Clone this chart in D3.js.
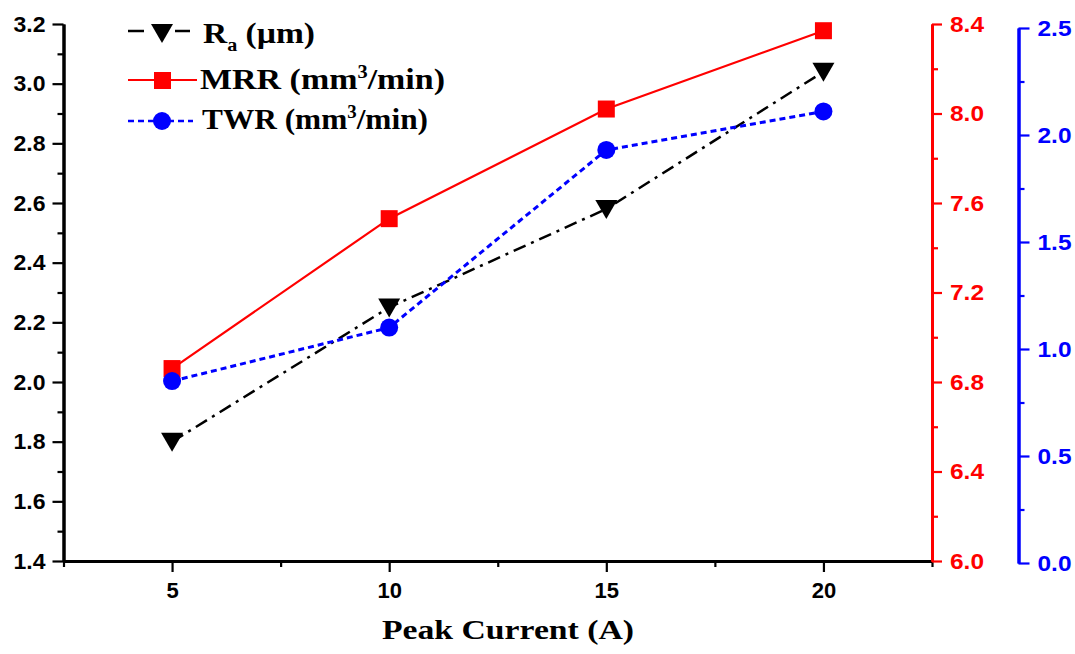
<!DOCTYPE html>
<html>
<head>
<meta charset="utf-8">
<script src="https://cdn.jsdelivr.net/npm/d3@7"></script>
<style>
  html, body { margin: 0; padding: 0; background: #fff; }
  svg { display: block; }
</style>
</head>
<body>
<svg id="chart" width="1075" height="654"></svg>
<script>
// ---- data ----
const peakCurrent = [5, 10, 15, 20];
const raValues = [1.80, 2.25, 2.58, 3.04];     // Ra (µm), left axis
const mrrValues = [6.86, 7.53, 8.02, 8.37];    // MRR (mm3/min), red right axis
const twrValues = [0.85, 1.10, 1.93, 2.11];    // TWR (mm3/min), blue right axis

const xMajorTicks = [5, 10, 15, 20];
const xMinorTicks = [2.5, 7.5, 12.5, 17.5, 22.5];
const leftMajorTicks = [1.4, 1.6, 1.8, 2.0, 2.2, 2.4, 2.6, 2.8, 3.0, 3.2];
const leftMinorTicks = [1.5, 1.7, 1.9, 2.1, 2.3, 2.5, 2.7, 2.9, 3.1];
const redMajorTicks = [6.0, 6.4, 6.8, 7.2, 7.6, 8.0, 8.4];
const redMinorTicks = [6.2, 6.6, 7.0, 7.4, 7.8, 8.2];
const blueMajorTicks = [0.0, 0.5, 1.0, 1.5, 2.0, 2.5];
const blueMinorTicks = [0.25, 0.75, 1.25, 1.75, 2.25];

(function () {
const svg = d3.select("#chart");

const pLeft = 63.5, pRight = 932, pTop = 24, pBottom = 561;
const blueAxisX = 1018.5, blueTop = 28, blueBottom = 563;

const x = d3.scaleLinear().domain([2.5, 22.5]).range([pLeft, pRight]);
const yL = d3.scaleLinear().domain([1.4, 3.2]).range([pBottom, pTop]);
const yR = d3.scaleLinear().domain([6.0, 8.4]).range([pBottom, pTop]);
const yB = d3.scaleLinear().domain([0.0, 2.5]).range([blueBottom, blueTop]);

const tickFont = "'Liberation Sans', Arial, sans-serif";
const serifFont = "'Liberation Serif', 'Times New Roman', serif";

function styleAxis(g, color, labelWidth) {
  g.select(".domain").attr("stroke", color).attr("stroke-width", 3);
  g.selectAll(".tick line").attr("stroke", color).attr("stroke-width", 2.2);
  const t = g.selectAll(".tick text")
    .attr("fill", color)
    .style("font-family", tickFont)
    .style("font-weight", "bold")
    .style("font-size", "22px");
  if (labelWidth) t.attr("textLength", labelWidth).attr("lengthAdjust", "spacingAndGlyphs");
}

// ---- bottom axis ----
const gxMinor = svg.append("g").attr("transform", `translate(0,${pBottom})`)
  .call(d3.axisBottom(x).tickValues(xMinorTicks).tickSize(6).tickFormat("").tickSizeOuter(0));
styleAxis(gxMinor, "#000");
const gx = svg.append("g").attr("transform", `translate(0,${pBottom})`)
  .call(d3.axisBottom(x).tickValues(xMajorTicks).tickSize(11).tickPadding(10).tickFormat(d3.format("d")).tickSizeOuter(0));
styleAxis(gx, "#000");

// ---- left axis ----
const gyMinor = svg.append("g").attr("transform", `translate(${pLeft},0)`)
  .call(d3.axisLeft(yL).tickValues(leftMinorTicks).tickSize(6).tickFormat("").tickSizeOuter(0));
styleAxis(gyMinor, "#000");
const gy = svg.append("g").attr("transform", `translate(${pLeft},0)`)
  .call(d3.axisLeft(yL).tickValues(leftMajorTicks).tickSize(11).tickPadding(7).tickFormat(d3.format(".1f")).tickSizeOuter(0));
styleAxis(gy, "#000", 32);

// ---- red right axis ----
const RED = "#ff0000", BLUE = "#0000ff";
const grMinor = svg.append("g").attr("transform", `translate(${pRight},0)`)
  .call(d3.axisRight(yR).tickValues(redMinorTicks).tickSize(6).tickFormat("").tickSizeOuter(0));
styleAxis(grMinor, RED);
const gr = svg.append("g").attr("transform", `translate(${pRight},0)`)
  .call(d3.axisRight(yR).tickValues(redMajorTicks).tickSize(10).tickPadding(8).tickFormat(d3.format(".1f")).tickSizeOuter(0));
styleAxis(gr, RED, 34);

// ---- blue right axis ----
const gbMinor = svg.append("g").attr("transform", `translate(${blueAxisX},0)`)
  .call(d3.axisRight(yB).tickValues(blueMinorTicks).tickSize(6).tickFormat("").tickSizeOuter(0));
styleAxis(gbMinor, BLUE);
const gb = svg.append("g").attr("transform", `translate(${blueAxisX},0)`)
  .call(d3.axisRight(yB).tickValues(blueMajorTicks).tickSize(11).tickPadding(8).tickFormat(d3.format(".1f")).tickSizeOuter(0));
styleAxis(gb, BLUE, 34);

// ---- axis title ----
svg.append("text")
  .attr("x", 508).attr("y", 639)
  .attr("text-anchor", "middle")
  .attr("textLength", 252).attr("lengthAdjust", "spacingAndGlyphs")
  .style("font-family", serifFont).style("font-weight", "bold").style("font-size", "28px")
  .text("Peak Current (A)");

// ---- series ----
const triPath = "M-11,-9 L11,-9 L0,10 Z";
function drawSeries(values, yScale, color, dash, width, marker) {
  const line = d3.line().x((d, i) => x(peakCurrent[i])).y(d => yScale(d));
  svg.append("path").datum(values)
    .attr("d", line).attr("fill", "none")
    .attr("stroke", color).attr("stroke-width", width)
    .attr("stroke-dasharray", dash);
  const g = svg.append("g");
  values.forEach((v, i) => {
    const cx = x(peakCurrent[i]), cy = yScale(v);
    if (marker === "tri") {
      g.append("path").attr("d", triPath).attr("transform", `translate(${cx},${cy})`).attr("fill", color);
    } else if (marker === "square") {
      g.append("rect").attr("x", cx - 8.5).attr("y", cy - 8.5).attr("width", 17).attr("height", 17).attr("fill", color);
    } else {
      g.append("circle").attr("cx", cx).attr("cy", cy).attr("r", 9).attr("fill", color);
    }
  });
}
drawSeries(raValues, yL, "#000", "13,6,3,6", 2.5, "tri");
drawSeries(mrrValues, yR, RED, null, 2.2, "square");
drawSeries(twrValues, yB, BLUE, "6,4", 3, "circle");

// ---- legend ----
const lg = svg.append("g");
// Ra
lg.append("line").attr("x1", 128).attr("x2", 144).attr("y1", 31).attr("y2", 31).attr("stroke", "#000").attr("stroke-width", 2.5);
lg.append("line").attr("x1", 175).attr("x2", 190).attr("y1", 31).attr("y2", 31).attr("stroke", "#000").attr("stroke-width", 2.5);
lg.append("path").attr("d", triPath).attr("transform", "translate(162,33)").attr("fill", "#000");
const t1 = lg.append("text").attr("x", 203).attr("y", 43)
  .attr("textLength", 112).attr("lengthAdjust", "spacingAndGlyphs")
  .style("font-family", serifFont).style("font-weight", "bold").style("font-size", "30px");
t1.append("tspan").text("R");
t1.append("tspan").attr("dy", 8).style("font-size", "18px").text("a");
t1.append("tspan").attr("dy", -8).text(" (µm)");
// MRR
lg.append("line").attr("x1", 128).attr("x2", 197).attr("y1", 80).attr("y2", 80).attr("stroke", RED).attr("stroke-width", 2.2);
lg.append("rect").attr("x", 154).attr("y", 72).attr("width", 17).attr("height", 17).attr("fill", RED);
const t2 = lg.append("text").attr("x", 200).attr("y", 89)
  .attr("textLength", 245).attr("lengthAdjust", "spacingAndGlyphs")
  .style("font-family", serifFont).style("font-weight", "bold").style("font-size", "30px");
t2.append("tspan").text("MRR (mm");
t2.append("tspan").attr("dy", -11).style("font-size", "18px").text("3");
t2.append("tspan").attr("dy", 11).text("/min)");
// TWR
lg.append("line").attr("x1", 128).attr("x2", 193).attr("y1", 121).attr("y2", 121).attr("stroke", BLUE).attr("stroke-width", 2.5).attr("stroke-dasharray", "6,4");
lg.append("circle").attr("cx", 162).attr("cy", 121).attr("r", 9).attr("fill", BLUE);
const t3 = lg.append("text").attr("x", 202).attr("y", 129)
  .attr("textLength", 226).attr("lengthAdjust", "spacingAndGlyphs")
  .style("font-family", serifFont).style("font-weight", "bold").style("font-size", "30px");
t3.append("tspan").text("TWR (mm");
t3.append("tspan").attr("dy", -11).style("font-size", "18px").text("3");
t3.append("tspan").attr("dy", 11).text("/min)");
})();
</script>
</body>
</html>
